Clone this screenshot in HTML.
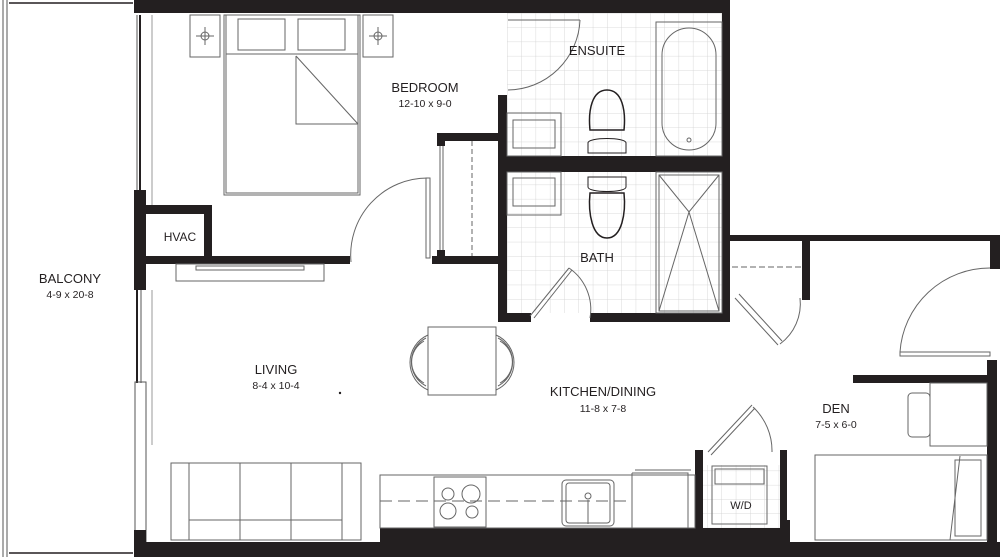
<!DOCTYPE html>
<html><head><meta charset="utf-8"><style>
html,body{margin:0;padding:0;background:#fff;width:1000px;height:557px;overflow:hidden}
svg{display:block}
text{font-family:"Liberation Sans",Arial,sans-serif;fill:#231f20;text-anchor:middle}
.l{font-size:13px}.d{font-size:10.5px}
</style></head><body>
<svg width="1000" height="557" viewBox="0 0 1000 557" xmlns="http://www.w3.org/2000/svg">
<defs>
<pattern id="tile" width="14.3" height="14.3" patternUnits="userSpaceOnUse" x="507" y="13">
<path d="M0 0H14.3M0 0V14.3" stroke="#d0d0d0" stroke-width="0.8" fill="none"/>
</pattern>
</defs>
<rect x="507" y="13" width="215" height="300" fill="url(#tile)"/>
<rect x="697" y="465" width="83" height="65" fill="url(#tile)"/>
<g stroke="#555" fill="none" stroke-width="1">
<line x1="3" y1="0" x2="3" y2="557"/><line x1="7" y1="0" x2="7" y2="557"/>
<line x1="9" y1="3" x2="133" y2="3" stroke="#231f20" stroke-width="1.5"/>
<line x1="9" y1="553" x2="133" y2="553" stroke="#231f20" stroke-width="1.5"/>
<line x1="137" y1="15" x2="137" y2="190"/><line x1="140" y1="15" x2="140" y2="190" stroke="#231f20" stroke-width="2"/>
<line x1="152" y1="15" x2="152" y2="205" stroke="#999"/>
<line x1="137" y1="290" x2="137" y2="383" stroke="#231f20" stroke-width="2"/><line x1="141" y1="290" x2="141" y2="383"/>
<rect x="135" y="382" width="11" height="160"/>
<line x1="152" y1="290" x2="152" y2="445" stroke="#999"/>
</g>
<g fill="#231f20">
<rect x="134" y="0" width="596" height="13"/>
<rect x="722" y="0" width="8" height="322"/>
<rect x="134" y="190" width="12" height="100"/>
<rect x="146" y="205" width="66" height="9"/>
<rect x="204" y="205" width="8" height="58"/>
<rect x="134" y="256" width="216" height="8"/>
<rect x="432" y="256" width="68" height="8"/>
<rect x="437" y="133" width="63" height="8"/>
<rect x="437" y="133" width="8" height="13"/>
<rect x="437" y="250" width="8" height="14"/>
<rect x="498" y="95" width="9" height="227"/>
<rect x="505" y="156" width="220" height="16"/>
<rect x="498" y="313" width="33" height="9"/>
<rect x="590" y="313" width="140" height="9"/>
<rect x="730" y="235" width="270" height="6"/>
<rect x="802" y="240" width="8" height="60"/>
<rect x="990" y="235" width="10" height="34"/>
<rect x="853" y="375" width="142" height="8"/>
<rect x="987" y="360" width="10" height="197"/>
<rect x="134" y="542" width="866" height="15"/>
<rect x="380" y="528" width="315" height="15"/>
<rect x="703" y="528" width="77" height="15"/>
<rect x="695" y="450" width="8" height="92"/>
<rect x="780" y="450" width="7" height="92"/>
<rect x="780" y="520" width="10" height="22"/>
<rect x="134" y="530" width="12" height="27"/>
</g>
<g fill="none" stroke="#666" stroke-width="1">
<rect x="190" y="15" width="30" height="42"/><rect x="363" y="15" width="30" height="42"/>
<circle cx="205" cy="36" r="4"/><path d="M196 36h18M205 27v18"/>
<circle cx="378" cy="36" r="4"/><path d="M369 36h18M378 27v18"/>
<rect x="224" y="15" width="136" height="180"/><rect x="226" y="15" width="132" height="178"/>
<line x1="226" y1="54" x2="358" y2="54"/>
<path d="M238 19h47v31h-47z M298 19h47v31h-47z"/>
<path d="M296 56v68h62 M296 56l62 68"/>
<rect x="176" y="264" width="148" height="17"/><rect x="196" y="266" width="108" height="4"/>
<line x1="440" y1="146" x2="440" y2="250"/><line x1="443" y1="146" x2="443" y2="250"/>
<line x1="472" y1="141" x2="472" y2="256" stroke-dasharray="5 3"/>
<path d="M351 262A77 77 0 0 1 428 178"/><rect x="426" y="178" width="4" height="80"/>
<path d="M508 90A73 73 0 0 0 580 20"/><line x1="508" y1="20" x2="580" y2="20"/>
<rect x="507" y="113" width="54" height="43"/><rect x="513" y="120" width="42" height="28"/>
<rect x="507" y="172" width="54" height="43"/><rect x="513" y="178" width="42" height="28"/>
<path d="M590 130c-2-20 2-40 17-40s19 20 17 40z" stroke="#231f20" stroke-width="1.5"/>
<path d="M588 143c0-6 38-6 38 0v10h-38z" stroke="#231f20"/>
<path d="M590 193c-2 20 2 45 17 45s19-25 17-45z" stroke="#231f20" stroke-width="1.5"/>
<path d="M588 177h38v10c0 6-38 6-38 0z" stroke="#231f20"/>
<rect x="656" y="22" width="66" height="134"/>
<rect x="662" y="28" width="54" height="122" rx="27"/>
<circle cx="689" cy="140" r="2"/>
<rect x="656" y="172" width="66" height="141"/><rect x="659" y="175" width="60" height="136"/>
<path d="M659 175L689 212L719 175M659 311L689 212L719 311"/>
<path d="M530 316L569 268"/><path d="M534 318L572 270"/><path d="M569 268A50 50 0 0 1 590 318"/>
<line x1="732" y1="267" x2="802" y2="267" stroke-dasharray="6 3"/>
<path d="M735 298L778 345 M739 294L782 341"/><path d="M780 344A50 50 0 0 0 800 298"/>
<path d="M900 352h90v4h-90z"/><path d="M900 352A90 90 0 0 1 990 268"/>
<rect x="428" y="327" width="68" height="68"/>
<path d="M428 335A30 30 0 0 0 428 390M426 338A27 27 0 0 0 426 386M424 341A24 24 0 0 0 424 383"/>
<path d="M496 335A30 30 0 0 1 496 390M498 338A27 27 0 0 1 498 386M500 341A24 24 0 0 1 500 383"/>
<rect x="171" y="463" width="190" height="77"/>
<path d="M189 463v77M240 463v77M291 463v77M342 463v77M189 520h153"/>
<rect x="380" y="475" width="315" height="53"/>
<line x1="380" y1="501" x2="630" y2="501" stroke-dasharray="12 6"/>
<rect x="434" y="477" width="52" height="50"/>
<circle cx="448" cy="494" r="6"/><circle cx="471" cy="494" r="9"/><circle cx="448" cy="511" r="8"/><circle cx="472" cy="512" r="6"/>
<rect x="562" y="480" width="52" height="46" rx="4"/><rect x="566" y="483" width="44" height="40" rx="3"/>
<circle cx="588" cy="496" r="3"/><line x1="588" y1="500" x2="588" y2="524"/>
<path d="M632 473h56v55M632 473v55M635 470h56"/>
<rect x="712" y="466" width="55" height="58"/><rect x="715" y="469" width="49" height="15"/>
<path d="M708 452L752 405 M711 455L755 408"/><path d="M753 407A60 60 0 0 1 772 452"/>
<rect x="930" y="383" width="57" height="63"/><rect x="908" y="393" width="22" height="44" rx="4"/>
<rect x="815" y="455" width="172" height="85"/><rect x="955" y="460" width="26" height="76"/>
<line x1="960" y1="456" x2="950" y2="540"/>
</g>
<circle cx="340" cy="393" r="1.2" fill="#231f20"/>
<text class="l" x="70" y="283">BALCONY</text><text class="d" x="70" y="298">4-9 x  20-8</text>
<text class="l" x="425" y="92">BEDROOM</text><text class="d" x="425" y="107">12-10 x 9-0</text>
<text class="l" x="597" y="55">ENSUITE</text>
<text class="l" x="597" y="262">BATH</text>
<text class="l" x="180" y="241" style="font-size:12px">HVAC</text>
<text class="l" x="276" y="374">LIVING</text><text class="d" x="276" y="389">8-4 x 10-4</text>
<text class="l" x="603" y="396">KITCHEN/DINING</text><text class="d" x="603" y="412">11-8 x 7-8</text>
<text class="l" x="836" y="413">DEN</text><text class="d" x="836" y="428">7-5 x 6-0</text>
<text class="d" x="741" y="509" style="font-size:11px">W/D</text>
</svg>
</body></html>
